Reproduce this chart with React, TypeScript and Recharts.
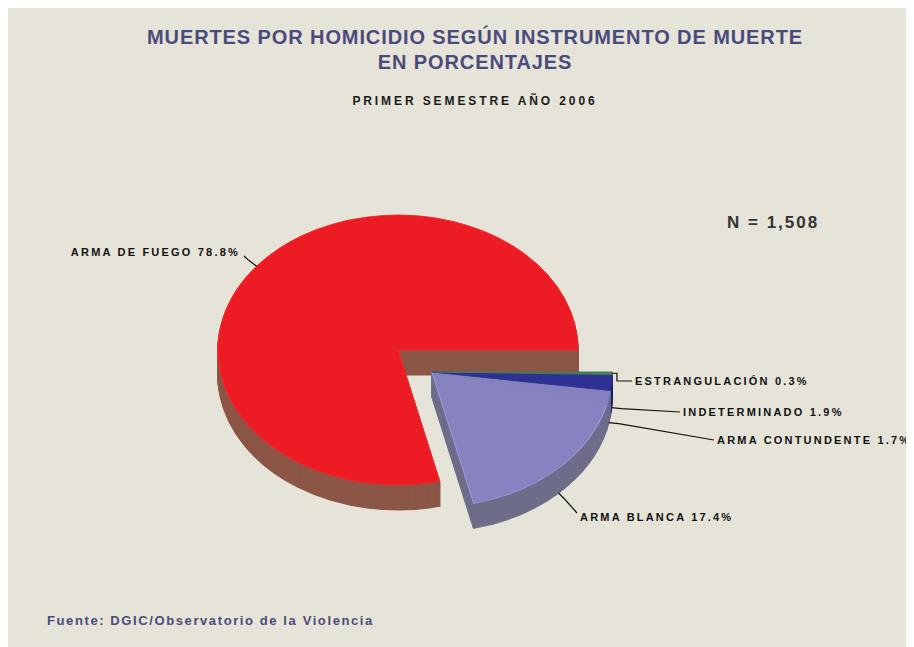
import React from "react";
import { PieChart, Pie, Cell } from "recharts";

// ---- data ----
const categories = ["ARMA DE FUEGO", "ARMA BLANCA", "ARMA CONTUNDENTE", "INDETERMINADO", "ESTRANGULACIÓN"];
const percentages = [78.8, 17.4, 1.7, 1.9, 0.3];
const titleLines = ["MUERTES POR HOMICIDIO SEGÚN INSTRUMENTO DE MUERTE", "EN PORCENTAJES"];
const subtitle = "PRIMER SEMESTRE AÑO 2006";
const totalLabel = "N = 1,508";
const sourceLabel = "Fuente: DGIC/Observatorio de la Violencia";

// ---- styles / layout ----
const W = 906;
const H = 639;
const BG = "#e6e4d8";
const SCALE = 0.75; // vertical squash for the tilted pie
const DEPTH = 25;
const R = 180;
const GROUPS = [
  { members: [0], cx: 390, cy: 342 },
  { members: [1, 2, 3, 4], cx: 424, cy: 364 },
];
const topColors = ["#ed1c24", "#8783c0", "#8581be", "#2e3192", "#487a5b"];
const sideColors = ["#8c5646", "#6f6e8a", "#6c6b8a", "#1f2266", "#2e5a3e"];
const topStroke = ["#f3262c", "#9b98dc", "#8581be", "#2e3192", "#487a5b"];

const labelLayout = [
  { x: 232, y: 244, anchor: "end", dy: 0 },
  { x: 572, y: 509, anchor: "start", dy: DEPTH },
  { x: 709, y: 432, anchor: "start", dy: DEPTH },
  { x: 675, y: 404, anchor: "start", dy: DEPTH },
  { x: 627, y: 373, anchor: "start", dy: 0 },
];

const data = categories.map((name, i) => ({ name, value: percentages[i] }));
const groupOf = categories.map((_, i) => GROUPS.findIndex((g) => g.members.includes(i)));

const makeLabel = (group: number) => (props: any) => {
  const { cx, cy, midAngle, outerRadius, index } = props;
  if (groupOf[index] !== group) return null;
  const rad = Math.PI / 180;
  const L = labelLayout[index];
  const ax = cx + outerRadius * Math.cos(midAngle * rad);
  const ay = SCALE * (cy - outerRadius * Math.sin(midAngle * rad)) + L.dy;
  const tx = L.anchor === "end" ? L.x + 4 : L.x - 3;
  const pts =
    L.anchor === "end"
      ? `${ax},${ay} ${ax - 8},${ay - 6} ${tx},${L.y + 4}`
      : index === 4
      ? `${ax},${ay} ${ax + 5},${ay} ${ax + 5},${L.y} ${tx},${L.y}`
      : index === 1
      ? `${ax},${ay} ${ax + 6},${ay + 6} ${tx},${L.y - 4}`
      : `${ax},${ay} ${ax + 10},${ay + 1} ${tx},${L.y}`;
  return (
    <g key={`lbl-${index}`}>
      <polyline points={pts} fill="none" stroke="#111" strokeWidth={1.2} />
      <text
        x={L.x}
        y={L.y}
        dy="0.35em"
        textAnchor={L.anchor}
        fontFamily="'Liberation Sans', Arial, sans-serif"
        fontWeight="bold"
        fontSize={11}
        letterSpacing={2.2}
        fill="#111"
      >
        {`${categories[index]}  ${percentages[index].toFixed(1)}%`}
      </text>
    </g>
  );
};

function groupPies(gi: number) {
  const g = GROUPS[gi];
  const pies = [];
  for (let k = DEPTH; k >= 1; k--) {
    pies.push(
      <Pie
        key={`g${gi}-d${k}`}
        data={data}
        dataKey="value"
        nameKey="name"
        cx={g.cx}
        cy={(g.cy + k) / SCALE}
        outerRadius={R}
        startAngle={0}
        endAngle={360}
        isAnimationActive={false}
        label={false}
        labelLine={false}
      >
        {data.map((_, i) => (
          <Cell
            key={i}
            fill={groupOf[i] === gi ? sideColors[i] : "none"}
            stroke={groupOf[i] === gi ? sideColors[i] : "none"}
            strokeWidth={1.5}
          />
        ))}
      </Pie>
    );
  }
  pies.push(
    <Pie
      key={`g${gi}-top`}
      data={data}
      dataKey="value"
      nameKey="name"
      cx={g.cx}
      cy={g.cy / SCALE}
      outerRadius={R}
      startAngle={0}
      endAngle={360}
      isAnimationActive={false}
      label={makeLabel(gi)}
      labelLine={false}
    >
      {data.map((_, i) => (
        <Cell
          key={i}
          fill={groupOf[i] === gi ? topColors[i] : "none"}
          stroke={groupOf[i] === gi ? topStroke[i] : "none"}
          strokeWidth={1.2}
        />
      ))}
    </Pie>
  );
  return pies;
}

const txt = (extra: React.CSSProperties): React.CSSProperties => ({
  position: "absolute",
  fontFamily: "'Liberation Sans', Arial, sans-serif",
  fontWeight: "bold",
  whiteSpace: "nowrap",
  lineHeight: 1,
  ...extra,
});

export default function App() {
  return (
    <div style={{ position: "relative", width: W, height: H, background: BG, overflow: "hidden" }}>
      <style>{`.tilt path.recharts-sector { transform: scale(1, ${SCALE}); transform-origin: 0 0; }`}</style>
      <div style={txt({ left: 117, width: 700, top: 19, textAlign: "center", fontSize: 20, color: "#4b4a7c", letterSpacing: 0.9 })}>
        {titleLines[0]}
      </div>
      <div style={txt({ left: 117, width: 700, top: 44, textAlign: "center", fontSize: 20, color: "#4b4a7c", letterSpacing: 0.9 })}>
        {titleLines[1]}
      </div>
      <div style={txt({ left: 117, width: 700, top: 87, textAlign: "center", fontSize: 12, color: "#1a1a1a", letterSpacing: 2.9 })}>
        {subtitle}
      </div>
      <div style={txt({ left: 719, top: 206, fontSize: 17, color: "#333", letterSpacing: 2 })}>{totalLabel}</div>
      <div style={txt({ left: 39, top: 606, fontSize: 13, color: "#4b4a7c", letterSpacing: 1.6 })}>{sourceLabel}</div>
      <div className="tilt" style={{ position: "absolute", left: 0, top: 0 }}>
        <PieChart width={W} height={H} margin={{ top: 0, right: 0, bottom: 0, left: 0 }}>
          {groupPies(0)}
          {groupPies(1)}
        </PieChart>
      </div>
    </div>
  );
}
